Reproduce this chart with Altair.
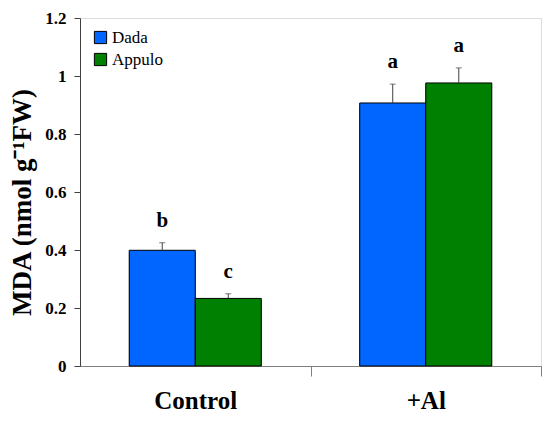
import altair as alt
import pandas as pd

treatment = ["Control", "Control", "+Al", "+Al"]
cultivar = ["Dada", "Appulo", "Dada", "Appulo"]
mean = [0.399, 0.233, 0.907, 0.976]
err = [0.026, 0.016, 0.065, 0.052]
letters = ["b", "c", "a", "a"]

df = pd.DataFrame({
    "treatment": treatment,
    "cultivar": cultivar,
    "mean": mean,
    "upper": [m + e for m, e in zip(mean, err)],
    "letter": letters,
})

FONT = "'Liberation Serif', 'Times New Roman', Times, serif"
cat_order = ["Control", "+Al"]
cult_order = ["Dada", "Appulo"]
W = 461
H = 348
STEP = W / 2

xenc = alt.X("treatment:N", sort=cat_order, title=None,
             scale=alt.Scale(paddingInner=0.427, paddingOuter=0.2135),
             axis=alt.Axis(labelAngle=0, labelFont=FONT, labelFontSize=25,
                           labelFontWeight="bold", labelColor="black",
                           labelPadding=12, tickSize=10,
                           tickOffset=STEP / 2, labelOffset=-STEP / 2,
                           domainColor="#808080", tickColor="#808080"))
xoff = alt.XOffset("cultivar:N", sort=cult_order)
yscale = alt.Scale(domain=[0, 1.2], nice=False)
yenc = alt.Y("mean:Q", title="MDA (nmol g\u207b\u00b9FW)", scale=yscale,
             axis=alt.Axis(values=[0, 0.2, 0.4, 0.6, 0.8, 1.0, 1.2], grid=False,
                           format="~g", labelFont=FONT,
                           labelFontSize=17, labelFontWeight="bold",
                           labelColor="black", labelPadding=8, tickSize=6,
                           domainColor="#404040", tickColor="#404040",
                           titleFont=FONT, titleFontSize=27, titleFontWeight="bold",
                           titleColor="black", titlePadding=8, titleY=H / 2 + 10))

color = alt.Color("cultivar:N", sort=cult_order,
                  scale=alt.Scale(domain=cult_order, range=["#0066FF", "#008000"]),
                  legend=alt.Legend(title=None, orient="none", legendX=12, legendY=11,
                                    padding=0, symbolType="square", symbolSize=150,
                                    symbolStrokeColor="black", symbolStrokeWidth=1,
                                    labelFont=FONT, labelFontSize=17, labelColor="black",
                                    rowPadding=4, labelOffset=3))

base = alt.Chart(df)

shadow = base.mark_bar(color="black", xOffset=3, yOffset=3, clip=True).encode(
    x=xenc, xOffset=xoff, y=yenc)
bars = base.mark_bar(stroke="black", strokeWidth=1).encode(
    x=xenc, xOffset=xoff, y=yenc, color=color)
rules = base.mark_rule(color="#404040", strokeWidth=1).encode(
    x=xenc, xOffset=xoff, y=yenc, y2="upper:Q")
caps = base.mark_tick(color="#404040", thickness=1, size=6, orient="horizontal").encode(
    x=xenc, xOffset=xoff, y=alt.Y("upper:Q", scale=yscale))
texts = base.mark_text(font=FONT, fontSize=21, fontWeight="bold", color="black",
                       dy=-22, baseline="middle").encode(
    x=xenc, xOffset=xoff, y=alt.Y("upper:Q", scale=yscale), text="letter:N")

chart = alt.layer(shadow, bars, rules, caps, texts).properties(
    width=W, height=H,
    autosize=alt.AutoSizeParams(type="none"),
    padding={"left": 72, "top": 10, "right": 1, "bottom": 46},
).configure_view(stroke="#808080", strokeWidth=1).configure(background="white")

chart.save("out.html", embed_options={"renderer": "svg", "actions": False})
